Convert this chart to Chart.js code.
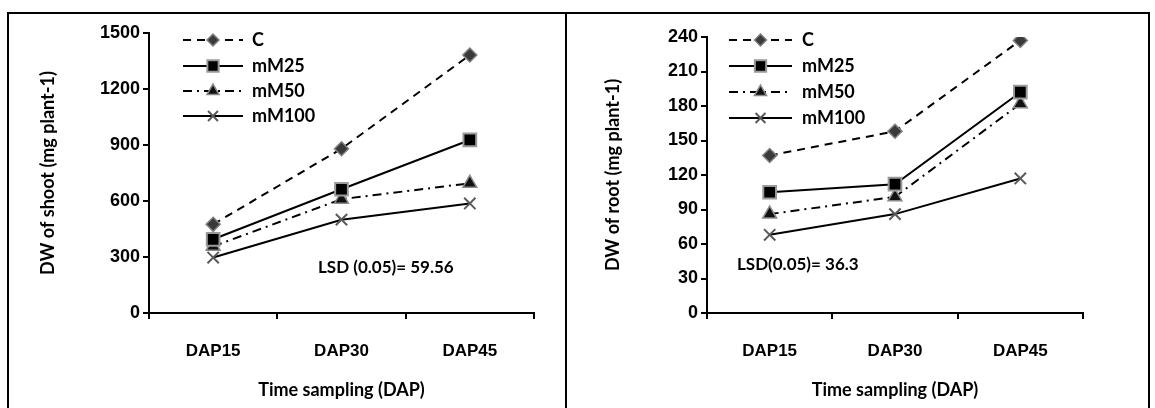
<!DOCTYPE html>
<html>
<head>
<meta charset="utf-8">
<script src="https://cdn.jsdelivr.net/npm/chart.js"></script>
<style>
  body { margin: 0; background: #fff; width: 1155px; height: 408px; overflow: hidden; position: relative; }
  #frame { position: absolute; left: 7px; top: 12px; width: 1139px; height: 420px; border: 2px solid #000; }
  #divider { position: absolute; left: 565px; top: 12px; width: 2px; height: 400px; background: #000; }
  .box { position: absolute; top: 14px; height: 394px; }
  #b1 { left: 9px; width: 556px; }
  #b2 { left: 567px; width: 580px; }
</style>
</head>
<body>
<div id="frame"></div>
<div id="divider"></div>
<div class="box" id="b1"><canvas id="canvas"></canvas></div>
<div class="box" id="b2"><canvas id="canvas2"></canvas></div>
<script>
let categorias = ['DAP15', 'DAP30', 'DAP45'];
let series = ['C', 'mM25', 'mM50', 'mM100'];

// DW of shoot (mg plant-1)
let shoot_C = [475, 880, 1382];
let shoot_25 = [395, 663, 927];
let shoot_50 = [357, 610, 695];
let shoot_100 = [297, 500, 587];

// DW of root (mg plant-1)
let root_C = [137, 158, 237];
let root_25 = [105, 112, 192];
let root_50 = [86, 101, 182];
let root_100 = [68, 86, 117];

let lsd_shoot = 'LSD (0.05)= 59.56';
let lsd_root = 'LSD(0.05)= 36.3';

let estilos = [
  { dash: [8, 6], point: 'rectRot', radius: 7, fill: '#3a3a3a', border: '#808080', bw: 1.5 },
  { dash: [], point: 'rect', radius: 9, fill: '#000000', border: '#9a9a9a', bw: 2 },
  { dash: [9, 5, 2, 5], point: 'triangle', radius: 8, fill: '#111111', border: '#8a8a8a', bw: 1.5 },
  { dash: [], point: 'crossRot', radius: 8, fill: '#5a5a5a', border: '#5a5a5a', bw: 2 }
];

let fonteEixo = { family: "'Liberation Sans', Arial, sans-serif", weight: 'bold', size: 17 };
let fonteY = { family: "'Liberation Sans', Arial, sans-serif", weight: 'bold', size: 18 };
let fonteTitulo = { family: 'Lato', weight: 'bold', size: 18 };

function montaDatasets(valores) {
  let ds = [];
  for (let i = 0; i < series.length; i++) {
    let e = estilos[i];
    ds.push({
      label: series[i],
      data: valores[i],
      borderColor: '#000',
      borderWidth: 2,
      borderDash: e.dash,
      pointStyle: e.point,
      pointRadius: e.radius,
      pointHoverRadius: e.radius,
      pointBackgroundColor: e.fill,
      pointBorderColor: e.border,
      pointBorderWidth: e.bw,
      fill: false,
      tension: 0
    });
  }
  return ds;
}

// legenda desenhada à mão (linha + marcador)
let legendaPlugin = {
  id: 'legendaLinha',
  afterDraw(chart, args, opts) {
    let ctx = chart.ctx;
    ctx.save();
    chart.data.datasets.forEach(function(d, i) {
      let y = opts.y[i];
      ctx.strokeStyle = '#000';
      ctx.lineWidth = 2;
      ctx.setLineDash(d.borderDash);
      ctx.beginPath();
      ctx.moveTo(opts.x1, y);
      ctx.lineTo(opts.x2, y);
      ctx.stroke();
      ctx.setLineDash([]);
      ctx.fillStyle = d.pointBackgroundColor;
      ctx.strokeStyle = d.pointBorderColor;
      ctx.lineWidth = d.pointBorderWidth;
      Chart.helpers.drawPoint(ctx, { pointStyle: d.pointStyle, radius: d.pointRadius - 1, borderWidth: d.pointBorderWidth, rotation: 0 }, (opts.x1 + opts.x2) / 2, y);
      ctx.fillStyle = '#000';
      ctx.font = 'bold 18px Lato';
      ctx.textBaseline = 'middle';
      ctx.textAlign = 'left';
      ctx.fillText(d.label, opts.xt, y);
    });
    ctx.font = 'bold 17px Lato';
    ctx.fillStyle = '#000';
    ctx.textBaseline = 'middle';
    ctx.fillText(opts.nota, opts.nx, opts.ny);
    ctx.restore();
  }
};

function configura(valores, ymax, passo, titulo, larguraY, padTitulo, pad, leg) {
  return {
    type: 'line',
    data: { labels: categorias, datasets: montaDatasets(valores) },
    options: {
      responsive: true,
      maintainAspectRatio: false,
      animation: false,
      layout: { padding: pad },
      plugins: { legend: { display: false }, tooltip: { enabled: false }, legendaLinha: leg },
      scales: {
        x: {
          offset: true,
          grid: { offset: true, drawOnChartArea: false, drawTicks: true, tickLength: 6, color: '#000', lineWidth: 2 },
          border: { color: '#000', width: 2 },
          ticks: { font: fonteEixo, color: '#000', padding: 22 },
          title: { display: true, text: 'Time sampling (DAP)', font: fonteTitulo, color: '#000', padding: { top: 0, bottom: 7 } },
          afterFit: function(s) { s.height = 95; }
        },
        y: {
          min: 0,
          max: ymax,
          ticks: { stepSize: passo, font: fonteY, color: '#000', padding: 3, callback: function(v) { return String(v); } },
          grid: { drawOnChartArea: false, drawTicks: true, tickLength: 6, color: '#000', lineWidth: 2 },
          border: { color: '#000', width: 2 },
          title: { display: true, text: titulo, font: fonteTitulo, color: '#000', padding: { top: padTitulo, bottom: 0 } },
          afterFit: function(s) { s.width = larguraY; }
        }
      }
    },
    plugins: [legendaPlugin]
  };
}

let configuracao = configura([shoot_C, shoot_25, shoot_50, shoot_100], 1500, 300,
  'DW of shoot (mg plant-1)', 140, 28, { top: 19, right: 31, left: 0, bottom: 0 },
  { x1: 174, x2: 234, xt: 243, y: [26, 52, 77, 102], nota: lsd_shoot, nx: 309, ny: 254 });
let chart = new Chart(document.getElementById('canvas'), configuracao);

let configuracao2 = configura([root_C, root_25, root_50, root_100], 240, 30,
  'DW of root (mg plant-1)', 140, 35, { top: 23, right: 64, left: 0, bottom: 0 },
  { x1: 162, x2: 225, xt: 235, y: [26, 52, 78, 104], nota: lsd_root, nx: 170, ny: 251 });
let chart2 = new Chart(document.getElementById('canvas2'), configuracao2);
</script>
</body>
</html>
